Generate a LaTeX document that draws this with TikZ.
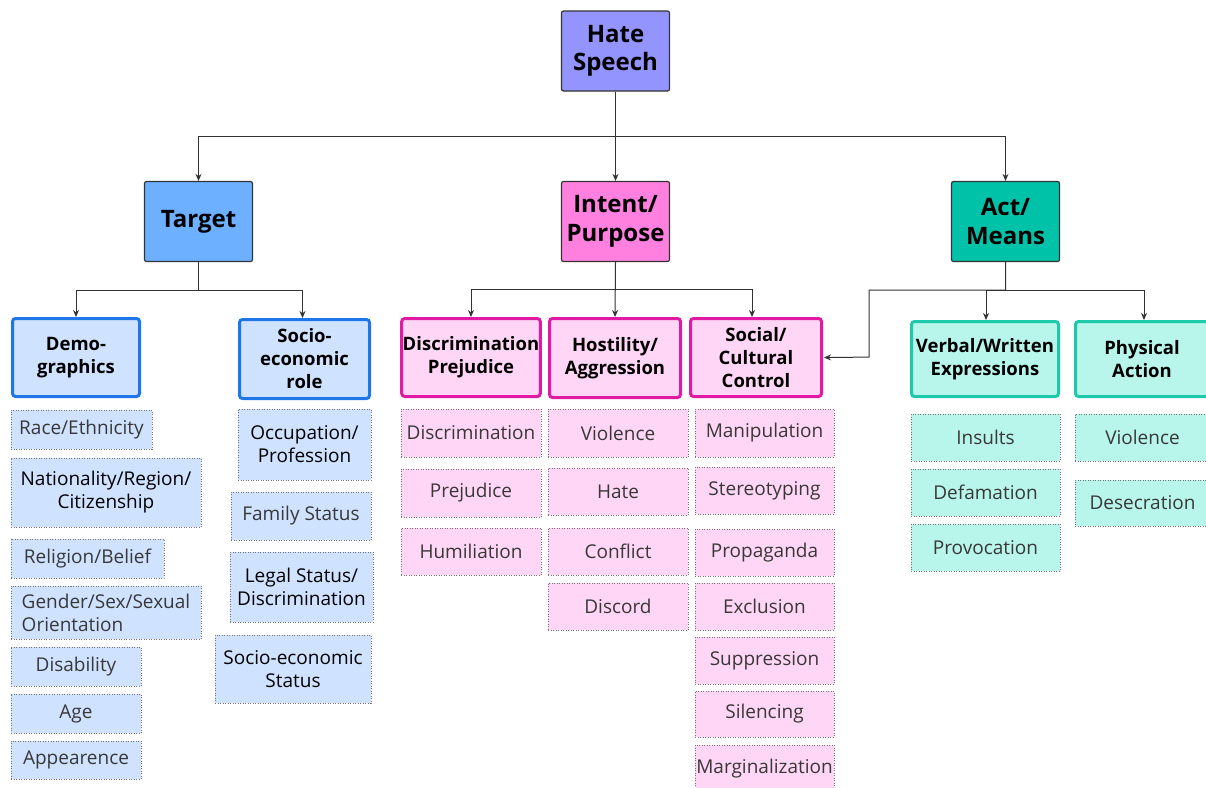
\documentclass[tikz,border=0pt]{standalone}
\usepackage{fontspec}
\setsansfont{Open Sans}
\usetikzlibrary{arrows.meta}

\definecolor{hatefill}{RGB}{148,148,255}
\definecolor{targetfill}{RGB}{108,176,255}
\definecolor{intentfill}{RGB}{255,128,223}
\definecolor{actfill}{RGB}{0,194,168}
\definecolor{blueline}{RGB}{30,118,232}
\definecolor{bluelight}{RGB}{207,226,255}
\definecolor{pinkline}{RGB}{224,26,162}
\definecolor{pinklight}{RGB}{255,214,245}
\definecolor{tealline}{RGB}{30,200,170}
\definecolor{teallight}{RGB}{184,245,234}

\tikzset{
  topbox/.style = {draw = black!80, line width = 1.2pt, shape = rectangle, rounded corners = 2pt, minimum width = 108pt, minimum height = 80pt, inner sep = 2pt, align = center, font = \sffamily\bfseries\fontsize{24}{28.5}\selectfont},
  subbox/.style = {line width = 3pt, shape = rectangle, rounded corners = 3pt, inner sep = 1pt, align = center, font = \sffamily\bfseries\fontsize{18.5}{23}\selectfont},
  leafbox/.style = {draw = black!55, dash pattern = on 1pt off 1.5pt, line width = 0.9pt, shape = rectangle, inner sep = 1pt, align = center, text = black!78, font = \sffamily\fontsize{19}{23}\selectfont},
  link/.style = {draw = black!80, line width = 1pt, -{Stealth[length = 7pt, width = 6pt]}}
}

\begin{document}
\begin{tikzpicture}[x = 1pt, y = -1pt]
\useasboundingbox (0,0) rectangle (1206,787);

% top levels
\node[topbox, fill = hatefill] (1) at (615.5,51) {Hate\\Speech};
\node[topbox, fill = targetfill] (2) at (198.5,221.5) {Target};
\node[topbox, fill = intentfill] (3) at (615.5,221.5) {Intent/\\Purpose};
\node[topbox, fill = actfill] (4) at (1005.5,221.5) {Act/\\Means};

% sub categories
\node[subbox, draw = blueline, fill = bluelight, minimum width = 127pt, minimum height = 78pt] (5) at (76,357.5) {Demo-\\graphics};
\node[subbox, draw = blueline, fill = bluelight, minimum width = 130pt, minimum height = 79pt] (6) at (304.5,359) {Socio-\\economic\\role};
\node[subbox, draw = pinkline, fill = pinklight, minimum width = 137pt, minimum height = 78pt] (7) at (471,357.5) {Discrimination\\Prejudice};
\node[subbox, draw = pinkline, fill = pinklight, minimum width = 131pt, minimum height = 79pt] (8) at (615,358) {Hostility/\\Aggression};
\node[subbox, draw = pinkline, fill = pinklight, minimum width = 131pt, minimum height = 78pt] (9) at (756,357.5) {Social/\\Cultural\\Control};
\node[subbox, draw = tealline, fill = teallight, minimum width = 147pt, minimum height = 75pt] (10) at (985,359) {Verbal/Written\\Expressions};
\node[subbox, draw = tealline, fill = teallight, minimum width = 133pt, minimum height = 75pt] (11) at (1142,359) {Physical\\Action};

% demographics
\node[leafbox, fill = bluelight, minimum width = 141pt, minimum height = 39pt] (20) at (81.5,429.5) {Race/Ethnicity};
\node[leafbox, fill = bluelight, text = black, minimum width = 190pt, minimum height = 69pt] (21) at (106,492.5) {Nationality/Region/\\Citizenship};
\node[leafbox, fill = bluelight, minimum width = 153pt, minimum height = 39pt] (22) at (87.5,558.5) {Religion/Belief};
\node[leafbox, fill = bluelight, align = left, minimum width = 190pt, minimum height = 53pt] (23) at (106,612.5) {Gender/Sex/Sexual\\Orientation};
\node[leafbox, fill = bluelight, minimum width = 130pt, minimum height = 39pt] (24) at (76,666.5) {Disability};
\node[leafbox, fill = bluelight, minimum width = 130pt, minimum height = 39pt] (25) at (76,713.5) {Age};
\node[leafbox, fill = bluelight, minimum width = 130pt, minimum height = 38pt] (26) at (76,760) {Appearence};

% socio-economic role
\node[leafbox, fill = bluelight, text = black, minimum width = 133pt, minimum height = 71pt] (27) at (304.5,444.5) {Occupation/\\Profession};
\node[leafbox, fill = bluelight, minimum width = 140pt, minimum height = 48pt] (28) at (301,516) {Family Status};
\node[leafbox, fill = bluelight, text = black, minimum width = 143pt, minimum height = 70pt] (29) at (301.5,587) {Legal Status/\\Discrimination};
\node[leafbox, fill = bluelight, text = black, minimum width = 156pt, minimum height = 68pt] (30) at (293,669) {Socio-economic\\Status};

% discrimination prejudice
\node[leafbox, fill = pinklight, minimum width = 140pt, minimum height = 48pt] (31) at (471,433) {Discrimination};
\node[leafbox, fill = pinklight, minimum width = 140pt, minimum height = 48pt] (32) at (471,493) {Prejudice};
\node[leafbox, fill = pinklight, minimum width = 140pt, minimum height = 47pt] (33) at (471,551.5) {Humiliation};

% hostility
\node[leafbox, fill = pinklight, minimum width = 140pt, minimum height = 48pt] (34) at (618,433) {Violence};
\node[leafbox, fill = pinklight, minimum width = 140pt, minimum height = 47pt] (35) at (618,491.5) {Hate};
\node[leafbox, fill = pinklight, minimum width = 140pt, minimum height = 47pt] (36) at (618,551.5) {Conflict};
\node[leafbox, fill = pinklight, minimum width = 140pt, minimum height = 47pt] (37) at (618,606.5) {Discord};

% social control
\node[leafbox, fill = pinklight, minimum width = 139pt, minimum height = 48pt] (38) at (764.5,433) {Manipulation};
\node[leafbox, fill = pinklight, minimum width = 139pt, minimum height = 47pt] (39) at (764.5,490.5) {Stereotyping};
\node[leafbox, fill = pinklight, minimum width = 139pt, minimum height = 47pt] (40) at (764.5,552.5) {Propaganda};
\node[leafbox, fill = pinklight, minimum width = 139pt, minimum height = 47pt] (41) at (764.5,606.5) {Exclusion};
\node[leafbox, fill = pinklight, minimum width = 139pt, minimum height = 47pt] (42) at (764.5,660.5) {Suppression};
\node[leafbox, fill = pinklight, minimum width = 139pt, minimum height = 46pt] (43) at (764.5,714) {Silencing};
\node[leafbox, fill = pinklight, minimum width = 139pt, minimum height = 47pt] (44) at (764.5,768.5) {Marginalization};

% act
\node[leafbox, fill = teallight, minimum width = 149pt, minimum height = 47pt] (45) at (985.5,437.5) {Insults};
\node[leafbox, fill = teallight, minimum width = 149pt, minimum height = 47pt] (46) at (985.5,492.5) {Defamation};
\node[leafbox, fill = teallight, minimum width = 149pt, minimum height = 47pt] (47) at (985.5,547.5) {Provocation};
\node[leafbox, fill = teallight, minimum width = 135pt, minimum height = 47pt] (48) at (1142.5,437.5) {Violence};
\node[leafbox, fill = teallight, minimum width = 135pt, minimum height = 46pt] (49) at (1142.5,503) {Desecration};

% connectors
\draw[link] (1.south) -- ++(0,45) -| (2.north);
\draw[link] (1.south) -- (3.north);
\draw[link] (1.south) -- ++(0,45) -| (4.north);
\draw[link] (2.south) -- ++(0,28) -| (5.north);
\draw[link] (2.south) -- ++(0,28) -| ([xshift = -2pt]6.north);
\draw[link] (3.south) -- ++(0,27) -| (7.north);
\draw[link] (3.south) -- (8.north);
\draw[link] (3.south) -- ++(0,27) -| ([xshift = -4pt]9.north);
\draw[link] (4.south) -- ++(0,28) -| ([xshift = 1pt]10.north);
\draw[link] (4.south) -- ++(0,28) -| ([xshift = 2pt]11.north);
\draw[link] (4.south) -- ++(0,28) -| ++(-136.5,67) -- ([xshift = 1pt]9.east);
\end{tikzpicture}
\end{document}
